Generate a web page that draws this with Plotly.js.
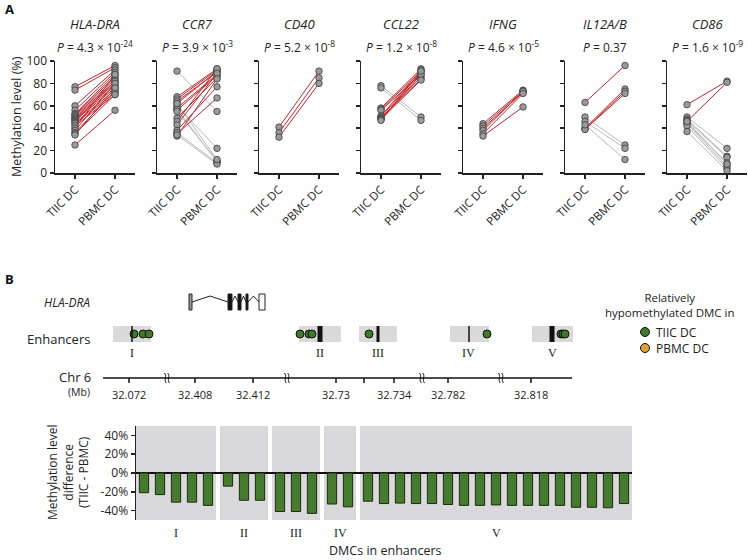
<!DOCTYPE html>
<html><head><meta charset="utf-8">
<script src="https://cdn.plot.ly/plotly-3.0.1.min.js"></script>
<style>body{margin:0;background:#fff;} #chart{width:748px;height:560px;}</style>
</head><body><div id="chart"></div>
<script>
// ---------------- Panel A data ----------------
const genes = ['HLA-DRA','CCR7','CD40','CCL22','IFNG','IL12A/B','CD86'];
const pLabels = ['4.3 × 10<sup>-24</sup>','3.9 × 10<sup>-3</sup>','5.2 × 10<sup>-8</sup>','1.2 × 10<sup>-8</sup>','4.6 × 10<sup>-5</sup>','0.37','1.6 × 10<sup>-9</sup>'];
const cellTypes = ['TIIC DC','PBMC DC'];
const yTicks = [0,20,40,60,80,100];

const tiic_HLADRA = [77,74,60,56,53,52,51,50,49,48,47,46,45,44,42,40,38,36,35,34,25];
const pbmc_HLADRA = [96,94,92,90,88,86,84,82,80,78,76,82,74,72,70,88,80,73,70,76,56];
const tiic_CCR7 = [68,66,64,62,58,56,49,46,43,38,35,33,91,60,57,55,36,34,62];
const pbmc_CCR7 = [93,92,90,91,88,87,85,93,89,77,67,84,55,22,10,11,9,8,12];
const tiic_CD40 = [41,36,32];
const pbmc_CD40 = [91,85,80];
const tiic_CCL22 = [58,57,56,51,50,49,49,48,48,47,78,76];
const pbmc_CCL22 = [93,91,88,92,90,86,84,88,83,91,50,47];
const tiic_IFNG = [44,42,40,38,35,33];
const pbmc_IFNG = [74,73,72,73,71,59];
const tiic_IL12 = [63,40,39,39,50,46,43];
const pbmc_IL12 = [96,75,73,71,25,22,12];
const tiic_CD86 = [61,46,50,48,47,45,44,42,37,46];
const pbmc_CD86 = [82,81,22,15,14,9,6,4,2,8];

const tiicSets = [tiic_HLADRA,tiic_CCR7,tiic_CD40,tiic_CCL22,tiic_IFNG,tiic_IL12,tiic_CD86];
const pbmcSets = [pbmc_HLADRA,pbmc_CCR7,pbmc_CD40,pbmc_CCL22,pbmc_IFNG,pbmc_IL12,pbmc_CD86];

// ---------------- Panel B schematic data (schematic track positions) ----------------
const enhancerNames = ['I','II','III','IV','V'];
const enhancerStart = [113,299,359,450,532];
const enhancerEnd   = [151,341,397,489,573];
const enhancerMark  = [132,320,378,469,552];
const enhancerMarkW = [1.5,5,3,1.5,5];
const dmcTIICPos = [134,143,149,300,309,312,369,487,561,563,565];
const exonStart = [189,228,238,246,259];
const exonEnd   = [192,232,241,248,265];
const exonFill  = ['#9a9a9a','#111','#111','#111','#fff'];
const chrTickPos = [129,195,253,336,364,394,448,531];
const chrTickLabels = ['32.072','32.408','32.412','32.73','','32.734','32.782','32.818'];
const chrBreaks = [167,287,422,501];

// ---------------- Panel B bar data ----------------
const dmcEnhancer = ['I','I','I','I','I','II','II','II','III','III','III','IV','IV',
  'V','V','V','V','V','V','V','V','V','V','V','V','V','V','V','V','V'];
const methDiff = [-21,-23,-31,-31,-34.5, -14,-29,-29, -41,-41,-43, -33,-36,
  -30,-32.5,-32,-32.5,-32.5,-33.5,-34.5,-34.5,-34,-34.5,-34.5,-34.5,-34.5,-36.5,-36.5,-37,-32.5];
const diffTicks = [-40,-20,0,20,40];

// ---------------- build ----------------
const W = 748, H = 560;
const px = v => v / W, py = v => 1 - v / H;
const FONT = 'Open Sans, Noto Sans, sans-serif';
const SERIF = 'Liberation Serif, DejaVu Serif, serif';
const RED = '#c0262c', GREY = '#b8b8b8';

const data = [], annotations = [], shapes = [];
const layout = {
  width: W, height: H, margin: {l:0,r:0,t:0,b:0},
  paper_bgcolor: '#fff', plot_bgcolor: 'rgba(0,0,0,0)',
  showlegend: false, font: {family: FONT, size: 12, color: '#222'},
  annotations, shapes
};
function label(xpx, ypx, text, opts) {
  const o = opts || {};
  annotations.push({xref:'paper', yref:'paper', x: px(xpx), y: py(ypx), text,
    xanchor: o.xanchor || 'center', yanchor: o.yanchor || 'middle', textangle: o.angle || 0,
    showarrow:false, font:{size: o.size || 12, family: o.family || FONT, color: o.color || '#222'}});
}

for (let i = 0; i < 7; i++) {
  const s = i === 0 ? '' : String(i + 1);
  const xa = 'x' + s, ya = 'y' + s;
  const tick0 = 75 + 102 * i;
  layout['xaxis' + s] = {
    domain: [px(tick0 - 20), Math.min(1, px(tick0 + 60))], anchor: ya,
    type: 'category', categoryarray: cellTypes, range: [-0.5, 1.5],
    showline: true, linecolor: '#222', linewidth: 1.5, ticks: 'outside', ticklen: 4,
    tickwidth: 1.5, tickcolor: '#222', tickangle: -45, showgrid: false, zeroline: false,
    tickfont: {size: 11.5, family: FONT, color: '#222'}, fixedrange: true
  };
  layout['yaxis' + s] = {
    domain: [py(173), py(61)], anchor: xa, range: [0, 100],
    tickvals: yTicks, showticklabels: i === 0,
    showline: true, linecolor: '#222', linewidth: 1.5, ticks: 'outside', ticklen: 4,
    tickwidth: 1.5, tickcolor: '#222', showgrid: false, zeroline: false,
    tickfont: {size: 12, family: FONT, color: '#222'}, fixedrange: true
  };
  const t = tiicSets[i], p = pbmcSets[i];
  const gx = [], gy = [], rx = [], ry = [];
  t.forEach((v, k) => {
    const up = p[k] >= v;
    (up ? rx : gx).push(cellTypes[0], cellTypes[1], null);
    (up ? ry : gy).push(v, p[k], null);
  });
  data.push({x: gx, y: gy, xaxis: xa, yaxis: ya, mode: 'lines', type: 'scatter',
    line: {color: GREY, width: 1}, hoverinfo: 'skip', connectgaps: false});
  data.push({x: rx, y: ry, xaxis: xa, yaxis: ya, mode: 'lines', type: 'scatter',
    line: {color: RED, width: 1}, hoverinfo: 'skip', connectgaps: false});
  data.push({x: t.map(() => cellTypes[0]).concat(p.map(() => cellTypes[1])), y: t.concat(p),
    xaxis: xa, yaxis: ya, mode: 'markers', type: 'scatter', cliponaxis: false,
    marker: {size: 6.5, color: '#9a9a9a', line: {color: '#3a3a3a', width: 0.8}}});
  label(tick0 + 20, 24, '<i>' + genes[i] + '</i>', {size: 13});
  label(tick0 + 20, 47, '<i>P</i> = ' + pLabels[i], {size: 12});
}
label(16, 117, 'Methylation level (%)', {angle: -90, size: 12.5});
label(3, 9, '<b>A</b>', {xanchor: 'left', size: 13, color: '#111'});
label(3, 279, '<b>B</b>', {xanchor: 'left', size: 13, color: '#111'});

// ---------- schematic axis (hidden) ----------
layout.xaxis9 = {domain:[0,1], anchor:'y9', range:[0,W], visible:false, fixedrange:true};
layout.yaxis9 = {domain:[0,1], anchor:'x9', range:[H,0], visible:false, fixedrange:true};
const sx = 'x9', sy = 'y9';
const geneY = 302, enhY = 334, chrY = 378;

// gene structure
const intronPts = [];
for (let k = 0; k < exonStart.length - 1; k++) {
  const a = exonEnd[k], b = exonStart[k + 1];
  intronPts.push('M' + a + ',' + geneY + ' L' + ((a + b) / 2) + ',' + (geneY - 6) + ' L' + b + ',' + geneY);
}
shapes.push({type:'path', xref:sx, yref:sy, path: intronPts.join(' '), line:{color:'#222', width:1}});
exonStart.forEach((s0, k) => shapes.push({type:'rect', xref:sx, yref:sy, x0:s0, x1:exonEnd[k], y0:geneY-8, y1:geneY+8,
  fillcolor: exonFill[k], line:{color:'#222', width:1}}));
label(92, geneY, '<i>HLA-DRA</i>', {xanchor: 'right', size: 12});

// enhancers
enhancerNames.forEach((n, k) => {
  shapes.push({type:'rect', xref:sx, yref:sy, x0:enhancerStart[k], x1:enhancerEnd[k], y0:enhY-8, y1:enhY+8,
    fillcolor:'#d9d9d9', line:{width:0}, layer:'below'});
  shapes.push({type:'rect', xref:sx, yref:sy, x0:enhancerMark[k]-enhancerMarkW[k]/2, x1:enhancerMark[k]+enhancerMarkW[k]/2,
    y0:enhY-8, y1:enhY+8, fillcolor:'#111', line:{width:0}});
  label(enhancerMark[k], enhY + 19, n, {family: SERIF, size: 12});
});
data.push({x: dmcTIICPos, y: dmcTIICPos.map(() => enhY), xaxis:sx, yaxis:sy, mode:'markers', type:'scatter', cliponaxis:false,
  marker:{size:8, color:'#3f7a2a', line:{color:'#111', width:1}}});
label(92, 339, 'Enhancers', {xanchor: 'right', size: 13});

// chromosome axis
shapes.push({type:'line', xref:sx, yref:sy, x0:103, x1:572, y0:chrY, y1:chrY, line:{color:'#111', width:1.5}});
chrTickPos.forEach((t, k) => {
  shapes.push({type:'line', xref:sx, yref:sy, x0:t, x1:t, y0:chrY, y1:chrY+5, line:{color:'#111', width:1.5}});
  if (chrTickLabels[k]) label(t, chrY + 16, chrTickLabels[k], {size: 11});
});
// axis-break squiggles
chrBreaks.forEach(b => {
  const path = [-1.6, 1.6].map(d => {
    const c = b + d;
    return 'M' + (c - 1) + ',' + (chrY - 5) + ' C' + (c + 2.2) + ',' + (chrY - 2) + ' ' + (c - 2.2) + ',' + (chrY + 2) + ' ' + (c + 1) + ',' + (chrY + 5);
  }).join(' ');
  shapes.push({type:'path', xref:sx, yref:sy, path, line:{color:'#111', width:1}});
});
label(93, 377, 'Chr 6', {xanchor: 'right', size: 13});
label(92, 392, '(Mb)', {xanchor: 'right', size: 10.5});

// legend
label(670, 305, 'Relatively<br>hypomethylated DMC in', {size: 11.5});
const legNames = ['TIIC DC','PBMC DC'], legColors = ['#3f7a2a','#e0a236'], legY = [332,348];
data.push({x: legY.map(() => 645), y: legY, xaxis:sx, yaxis:sy, mode:'markers', type:'scatter', cliponaxis:false,
  marker:{size:9, color:legColors, line:{color:'#111', width:1}}});
legNames.forEach((n, k) => label(654, legY[k], n, {xanchor: 'left', size: 12}));

// ---------- bar chart ----------
const barX = []; const groupOrder = [];
let gi = -1, prev = null;
dmcEnhancer.forEach((g, i) => { if (g !== prev) { gi++; prev = g; groupOrder.push(g); } barX.push(i + 0.25 * gi); });
const bx0 = 136, bx1 = 632, xr0 = -0.5, xr1 = barX[barX.length-1] + 0.5;
const barPx = v => bx0 + (v - xr0) / (xr1 - xr0) * (bx1 - bx0);
layout.xaxis8 = {domain:[px(bx0), px(bx1)], anchor:'y8', range:[xr0, xr1],
  showline:false, showticklabels:false, ticks:'', showgrid:false, zeroline:false, fixedrange:true};
layout.yaxis8 = {domain:[py(520), py(426)], anchor:'x8', range:[-50, 50], tickvals: diffTicks,
  ticktext: diffTicks.map(v => v + '%'), showline:true, linecolor:'#222', linewidth:1.5, ticks:'outside', ticklen:4,
  tickwidth:1.5, tickcolor:'#222', showgrid:false, zeroline:true, zerolinecolor:'#111', zerolinewidth:1.5,
  tickfont:{size:12, family:FONT, color:'#222'}, fixedrange:true};
groupOrder.forEach(g => {
  const xs = barX.filter((_, i) => dmcEnhancer[i] === g);
  const x0 = Math.min(...xs) - 0.5, x1 = Math.max(...xs) + 0.5;
  shapes.push({type:'rect', xref:'x8', yref:'y8', x0, x1, y0:-50, y1:50, fillcolor:'#d9d9db', line:{width:0}, layer:'below'});
  label(barPx((x0 + x1) / 2), 533, g, {family: SERIF, size: 12});
});
data.push({type:'bar', x: barX, y: methDiff, xaxis:'x8', yaxis:'y8', width:0.58,
  marker:{color:'#467a2e', line:{color:'#1e2a14', width:1}}});
label(68, 473, 'Methylation level<br>difference<br>(TIIC - PBMC)', {angle: -90, size: 12});
label(386, 550, 'DMCs in enhancers', {size: 12.5});

Plotly.newPlot('chart', data, layout, {displayModeBar:false, staticPlot:true});
</script></body></html>
